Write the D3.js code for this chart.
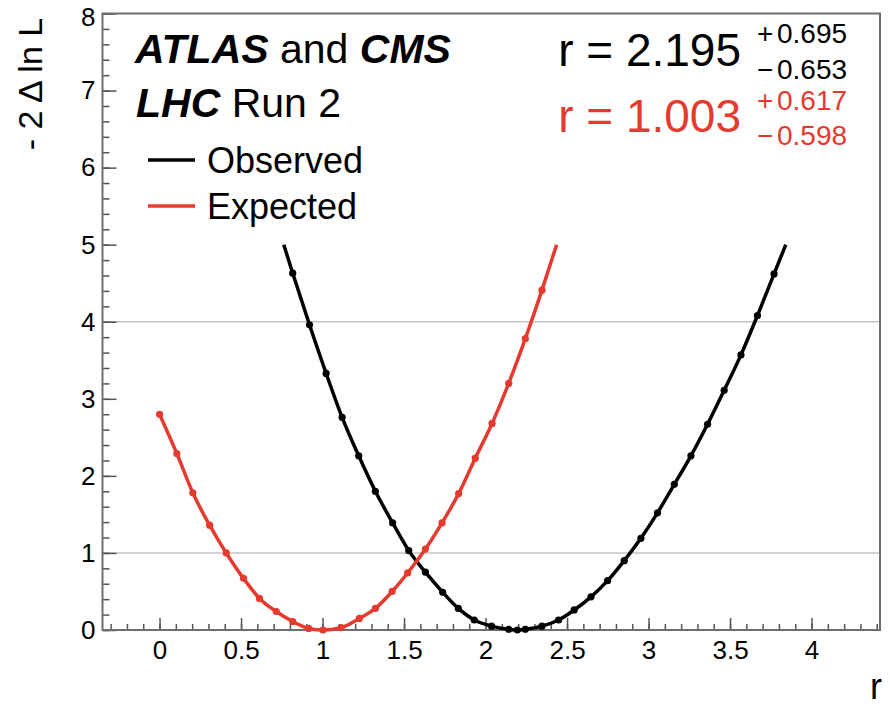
<!DOCTYPE html>
<html lang="en">
<head>
<meta charset="UTF-8" />
<title>ATLAS and CMS - LHC Run 2</title>
<style>
  body { margin: 0; background: #fff; }
  svg text { font-family: "Liberation Sans", Arial, Helvetica, sans-serif; }
</style>
</head>
<body>
<div id="chart"></div>
<script src="https://d3js.org/d3.v7.min.js"></script>
<script>
// observed scan points: r and -2 Delta ln L
const obsR = [0.817, 0.920, 1.022, 1.120, 1.222, 1.324, 1.430, 1.529, 1.631, 1.737,
  1.833, 1.931, 2.037, 2.142, 2.195, 2.244, 2.346, 2.448, 2.544, 2.647,
  2.749, 2.851, 2.953, 3.055, 3.158, 3.260, 3.362, 3.464, 3.567, 3.668, 3.770]
const obsY = [4.63, 3.96, 3.33, 2.76, 2.26, 1.80, 1.39, 1.03, 0.75, 0.49,
  0.28, 0.13, 0.05, 0.01, 0.00, 0.01, 0.05, 0.13, 0.26, 0.43,
  0.64, 0.90, 1.19, 1.52, 1.89, 2.26, 2.67, 3.11, 3.57, 4.08, 4.62]

// expected scan points
const expR = [0.000, 0.106, 0.204, 0.307, 0.409, 0.515, 0.613, 0.716, 0.817, 0.915,
  1.003, 1.114, 1.226, 1.324, 1.427, 1.522, 1.631, 1.733, 1.835, 1.937,
  2.040, 2.142, 2.244, 2.346]
const expY = [2.80, 2.29, 1.78, 1.36, 1.00, 0.67, 0.41, 0.24, 0.11, 0.02,
  0.00, 0.03, 0.15, 0.28, 0.50, 0.74, 1.05, 1.39, 1.77, 2.23,
  2.68, 3.20, 3.78, 4.41]

// the curves are cut where they reach this value
const yCut = 5
const obsCutR = [0.762, 3.842]
const expCutR = [null, 2.436]

const xTicks = [0, 0.5, 1, 1.5, 2, 2.5, 3, 3.5, 4]
const yTicks = [0, 1, 2, 3, 4, 5, 6, 7, 8]
const gridY = [1, 4]

const legendNames = ["Observed", "Expected"]
const fitBest = ["2.195", "1.003"]
const fitUp = ["0.695", "0.617"]
const fitDown = ["0.653", "0.598"]

const red = "#e63a2f"
const colors = ["#000000", red]

const W = 890, H = 706
const padL = 102.5, padR = 880, padT = 13.5, padB = 630

const svg = d3.select("#chart")
  .append("svg")
  .attr("width", W)
  .attr("height", H)

const x = d3.scaleLinear().domain([-0.35, 4.42]).range([padL, padR])
const y = d3.scaleLinear().domain([0, 8]).range([padB, padT])

// grid lines at 1 and 4
svg.append("g").selectAll("line")
  .data(gridY)
  .enter().append("line")
  .attr("x1", padL).attr("x2", padR)
  .attr("y1", d => y(d)).attr("y2", d => y(d))
  .attr("stroke", "#c4c4c4")
  .attr("stroke-width", 1.5)

// minor ticks
const xMinor = d3.range(-3, 45).map(i => i / 10).filter(v => v > -0.35 && v < 4.42)
const yMinor = d3.range(0, 41).map(i => i / 5)

const xMinorAxis = svg.append("g")
  .attr("transform", "translate(0," + padB + ")")
  .call(d3.axisBottom(x).tickValues(xMinor).tickSizeInner(-6).tickSizeOuter(0).tickFormat(""))
const yMinorAxis = svg.append("g")
  .attr("transform", "translate(" + padL + ",0)")
  .call(d3.axisLeft(y).tickValues(yMinor).tickSizeInner(-7).tickSizeOuter(0).tickFormat(""))

// major ticks with labels
const xAxis = svg.append("g")
  .attr("transform", "translate(0," + padB + ")")
  .call(d3.axisBottom(x).tickValues(xTicks).tickSizeInner(-12).tickSizeOuter(0)
    .tickPadding(11).tickFormat(d3.format("")))
const yAxis = svg.append("g")
  .attr("transform", "translate(" + padL + ",0)")
  .call(d3.axisLeft(y).tickValues(yTicks).tickSizeInner(-14).tickSizeOuter(0)
    .tickPadding(7).tickFormat(d3.format("d")))

for (const g of [xMinorAxis, yMinorAxis, xAxis, yAxis]) {
  g.select(".domain").remove()
  g.selectAll(".tick line").attr("stroke", "#555").attr("stroke-width", 1.5)
  g.selectAll(".tick text")
    .attr("fill", "#000")
    .style("font-size", "26px")
    .style("font-family", "'Liberation Sans', Arial, sans-serif")
}
// top label would touch the window edge, nudge it down a little
yAxis.selectAll(".tick text").filter(d => d === 8).attr("dy", "0.45em")

// frame
svg.append("rect")
  .attr("x", padL).attr("y", padT)
  .attr("width", padR - padL).attr("height", padB - padT)
  .attr("fill", "none")
  .attr("stroke", "#6e6e6e")
  .attr("stroke-width", 2)

// curves
const line = d3.line()
  .x(d => x(d[0]))
  .y(d => y(d[1]))
  .curve(d3.curveMonotoneX)

const series = [
  { r: obsR, v: obsY, cut: obsCutR, color: colors[0] },
  { r: expR, v: expY, cut: expCutR, color: colors[1] }
]

series.forEach(s => {
  let pts = s.r.map((r, i) => [r, s.v[i]])
  if (s.cut[0] != null) pts.unshift([s.cut[0], yCut])
  if (s.cut[1] != null) pts.push([s.cut[1], yCut])

  svg.append("path")
    .datum(pts)
    .attr("d", line)
    .attr("fill", "none")
    .attr("stroke", s.color)
    .attr("stroke-width", 3.5)

  svg.append("g").selectAll("circle")
    .data(s.r.map((r, i) => [r, s.v[i]]))
    .enter().append("circle")
    .attr("cx", d => x(d[0]))
    .attr("cy", d => y(d[1]))
    .attr("r", 3.6)
    .attr("fill", s.color)
})

// axis titles
svg.append("text")
  .attr("transform", "translate(42,84) rotate(-90)")
  .attr("text-anchor", "middle")
  .style("font-size", "34px")
  .text("- 2 \u0394 ln L")

svg.append("text")
  .attr("x", 882).attr("y", 699)
  .attr("text-anchor", "end")
  .style("font-size", "36px")
  .text("r")

// header
const head1 = svg.append("text").attr("x", 135).attr("y", 63).style("font-size", "41px")
head1.append("tspan").attr("font-weight", "bold").attr("font-style", "italic").text("ATLAS")
head1.append("tspan").text(" and ")
head1.append("tspan").attr("font-weight", "bold").attr("font-style", "italic").text("CMS")

const head2 = svg.append("text").attr("x", 136).attr("y", 117).style("font-size", "41px")
head2.append("tspan").attr("font-weight", "bold").attr("font-style", "italic").text("LHC")
head2.append("tspan").text(" Run 2")

// legend
legendNames.forEach((name, i) => {
  const ly = 160 + i * 46
  svg.append("line")
    .attr("x1", 148).attr("x2", 195)
    .attr("y1", ly).attr("y2", ly)
    .attr("stroke", colors[i])
    .attr("stroke-width", 3.5)
  svg.append("text")
    .attr("x", 207).attr("y", ly + 13)
    .style("font-size", "36px")
    .text(name)
})

// fit results
const upDy = [-23, -22]
const downDy = [13, 13]
fitBest.forEach((best, i) => {
  const by = 66 + i * 66
  svg.append("text")
    .attr("x", 741).attr("y", by)
    .attr("text-anchor", "end")
    .attr("fill", colors[i])
    .style("font-size", "46px")
    .text("r = " + best)
  svg.append("text")
    .attr("x", 757).attr("y", by + upDy[i])
    .attr("fill", colors[i])
    .style("font-size", "28px")
    .text("+")
  svg.append("text")
    .attr("x", 777).attr("y", by + upDy[i])
    .attr("fill", colors[i])
    .style("font-size", "28px")
    .text(fitUp[i])
  svg.append("text")
    .attr("x", 757).attr("y", by + downDy[i])
    .attr("fill", colors[i])
    .style("font-size", "28px")
    .text("\u2212")
  svg.append("text")
    .attr("x", 777).attr("y", by + downDy[i])
    .attr("fill", colors[i])
    .style("font-size", "28px")
    .text(fitDown[i])
})
</script>
</body>
</html>
